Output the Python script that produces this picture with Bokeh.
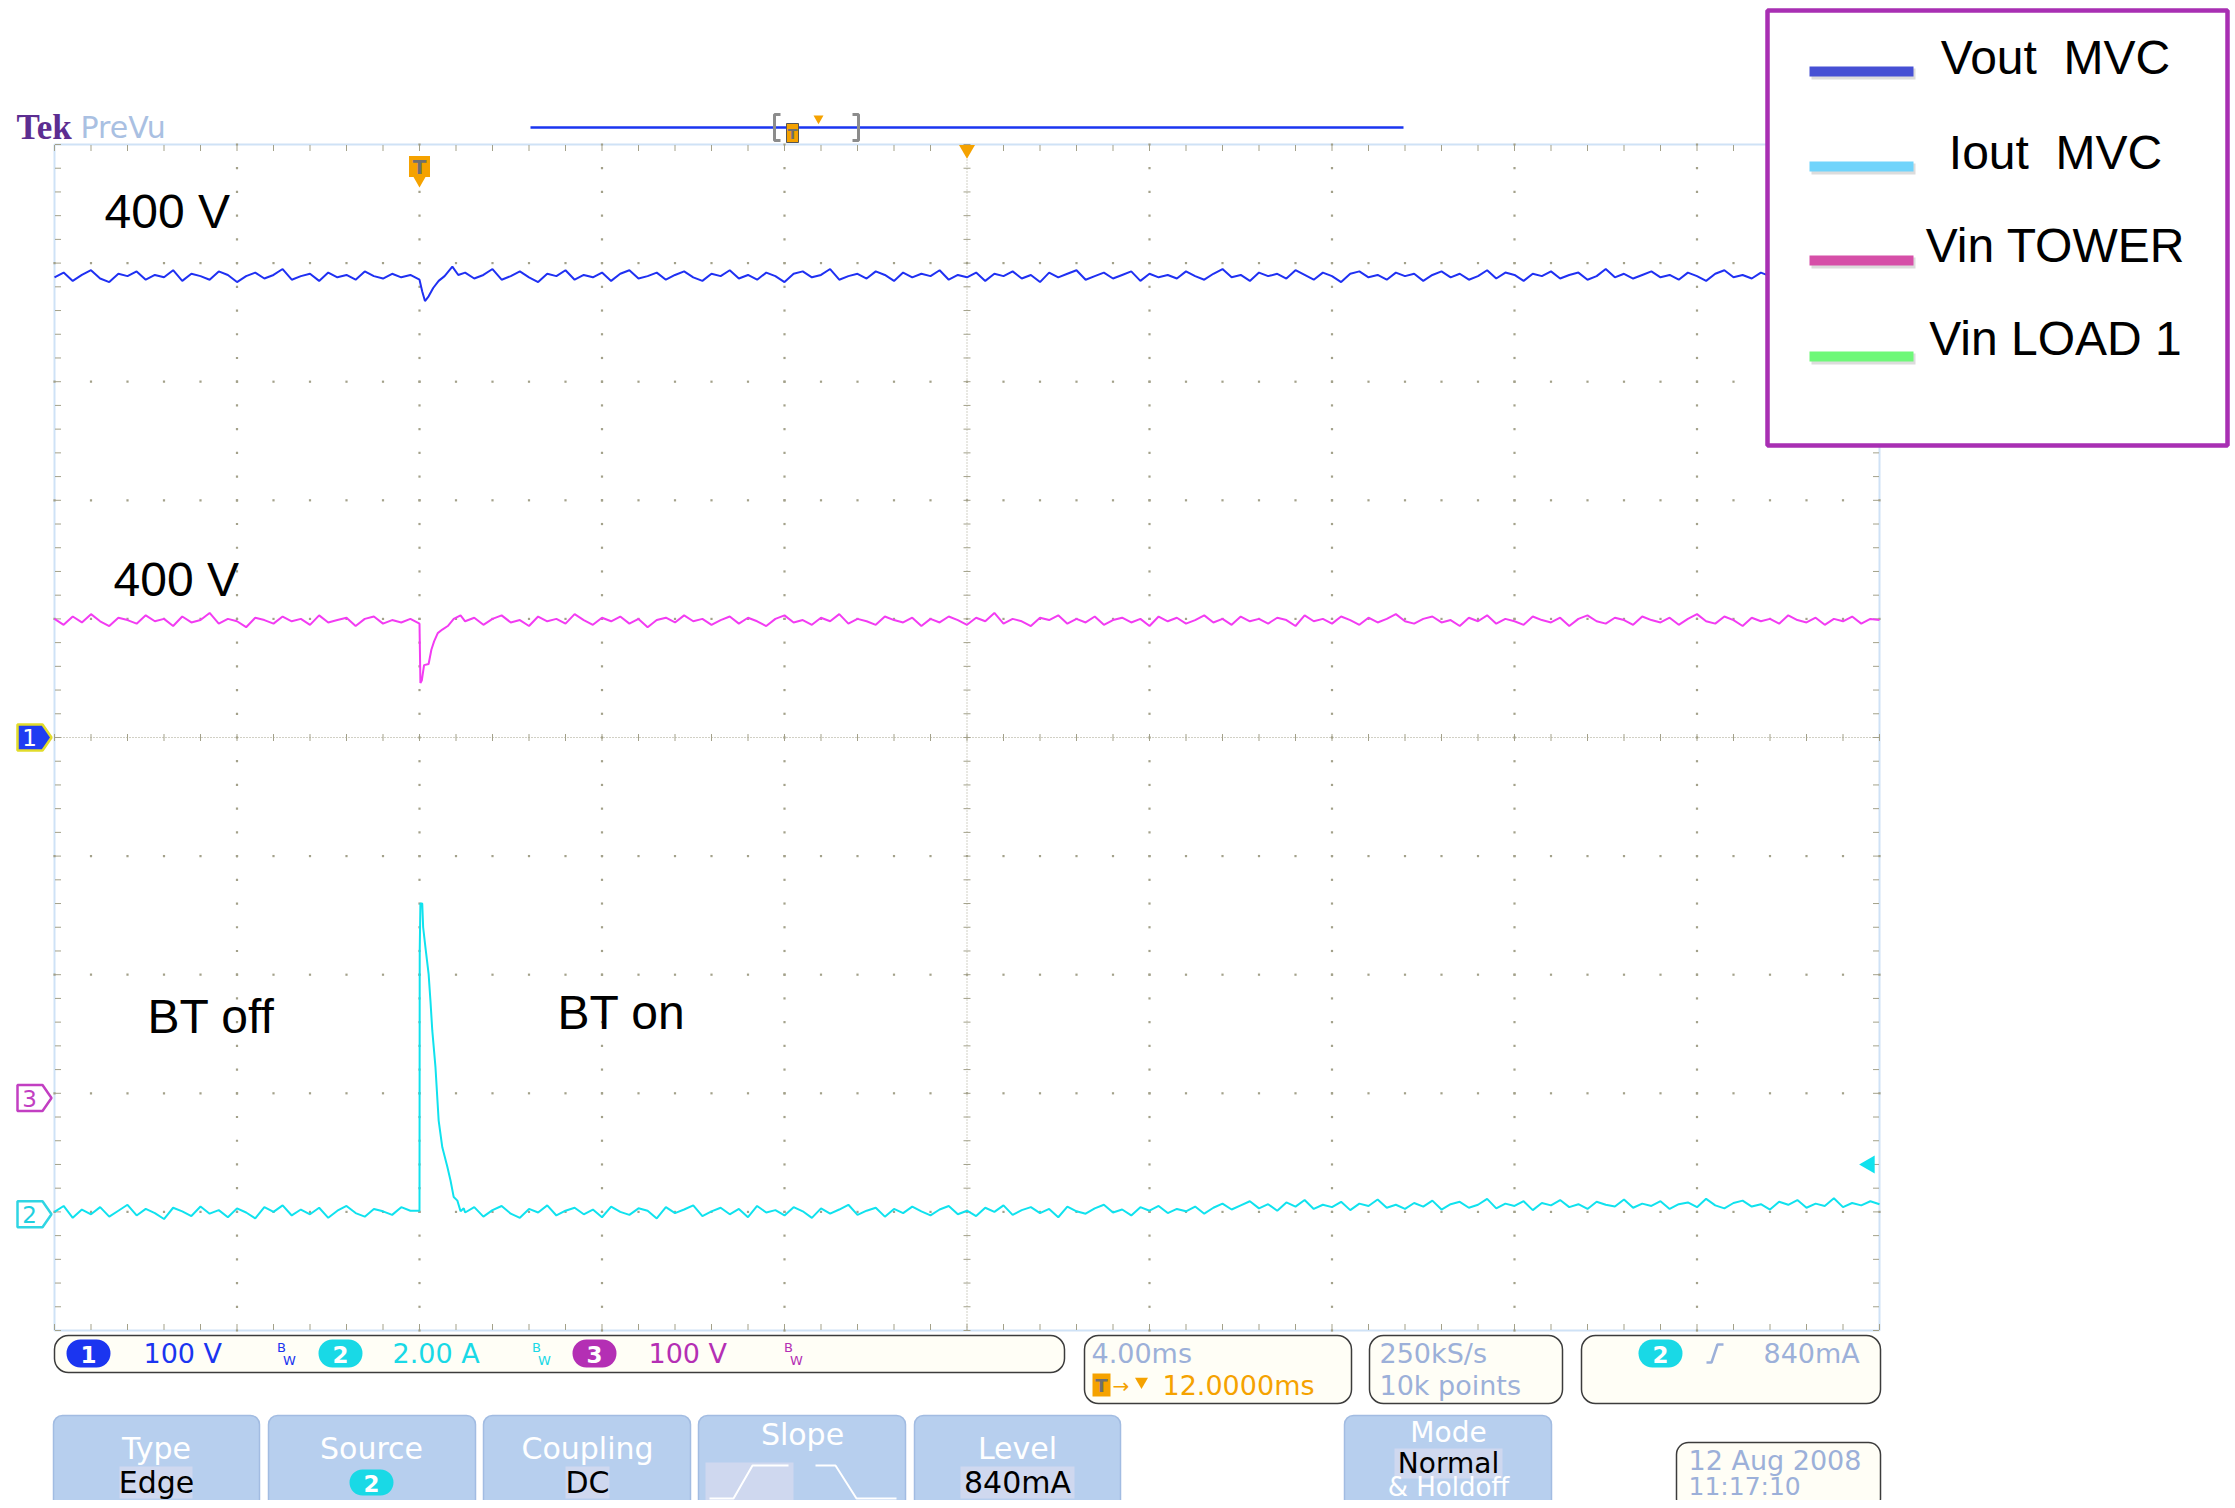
import numpy as np
from bokeh.plotting import figure
from bokeh.models import Range1d, BoxAnnotation, Label
from bokeh.core.properties import value
from bokeh.embed import file_html
from bokeh.resources import INLINE

# ------------------------------------------------------------------ data
TIME_PER_DIV_MS = 4.0
TIME_LEFT_MS = -8.0            # trigger point sits 2 divisions from the left edge
EXPANSION_MS = 12.0            # "T -> 12.0000ms"
SAMPLE_STEP_MS = 0.2
PRE_START_MS = -8.0
POST_START_MS = 1.0

LEGEND_NAMES = ["Vout\u00a0 MVC", "Iout\u00a0 MVC", "Vin TOWER", "Vin LOAD 1"]
CH_UNITS_PER_DIV = {"v1": 100.0, "i2": 2.0, "v3": 100.0}
CH_OFFSET_DIV = {"v1": 0.0, "i2": -4.02, "v3": -3.04}
TRIGGER_LEVEL_A = 0.84

# Ch1  Vout MVC  (V)
vout_pre = [388, 392, 385, 390, 394, 387, 384, 391, 389, 393, 386, 390, 388, 394, 385, 391, 389, 386, 393, 390,
            384, 389, 392, 387, 390, 395, 386, 389, 391, 385, 392, 388, 390, 386, 393, 389, 387, 391, 388, 390]
vout_tr_t = [0.0, 0.06, 0.12, 0.2, 0.3, 0.42, 0.55, 0.72, 0.85]
vout_tr = [386, 376, 368, 372, 379, 385, 389, 397, 390]
vout_post = [392, 387, 390, 395, 386, 389, 393, 388, 384, 391, 389, 394, 386, 390, 388, 392, 385, 391, 394, 387, 389, 392, 386, 390, 393, 388,
             385, 391, 389, 394, 387, 390, 386, 392, 389, 384, 391, 393, 388, 390, 395, 386, 389, 391, 387, 393, 390, 385, 392, 388, 391, 389,
             394, 386, 390, 388, 392, 385, 391, 389, 393, 387, 390, 384, 392, 388, 391, 394, 386, 389, 392, 387, 390, 393, 385, 391, 388, 390,
             387, 393, 389, 386, 391, 395, 388, 390, 385, 392, 389, 391, 387, 394, 390, 386, 392, 389, 384, 391, 393, 388, 390, 386, 392, 389,
             391, 385, 390, 393, 388, 391, 386, 389, 394, 387, 392, 390, 385, 391, 389, 393, 387, 390, 392, 386, 389, 395, 388, 391, 387, 390,
             393, 388, 390, 386, 392, 389, 385, 391, 394, 388, 390, 387, 392, 389, 386, 393, 390, 388, 391, 385, 392, 389, 394, 387, 390, 389]

# Ch3  Vin TOWER  (V)
vin_pre = [404, 399, 406, 401, 408, 402, 398, 405, 403, 400, 407, 402, 404, 398, 406, 401, 403, 409, 400, 404,
           402, 397, 405, 403, 400, 406, 402, 404, 399, 407, 401, 403, 405, 398, 404, 406, 400, 403, 401, 404]
vin_tr_t = [0.0, 0.02, 0.05, 0.1, 0.2, 0.26, 0.32, 0.4, 0.5, 0.62, 0.75, 0.9]
vin_tr = [400, 350, 352, 365, 366, 378, 385, 392, 395, 398, 404, 407]
vin_post = [402, 405, 399, 404, 407, 401, 403, 398, 406, 402, 404, 400, 408, 403, 399, 405, 402, 406, 400, 404, 397, 403, 405, 401, 407, 402,
            404, 399, 403, 406, 400, 405, 402, 398, 404, 407, 401, 403, 399, 405, 402, 408, 400, 404, 402, 399, 406, 403, 401, 405, 398, 404,
            401, 406, 403, 399, 405, 402, 409, 400, 404, 402, 398, 405, 403, 407, 400, 404, 401, 406, 399, 403, 405, 401, 404, 398, 406, 402,
            405, 400, 403, 407, 401, 404, 399, 406, 402, 404, 400, 405, 403, 398, 407, 402, 404, 400, 406, 403, 399, 405, 401, 404, 408, 402,
            400, 404, 406, 401, 403, 398, 405, 402, 407, 400, 404, 402, 399, 406, 403, 401, 405, 398, 404, 407, 402, 400, 405, 403, 399, 406,
            403, 401, 405, 399, 404, 408, 402, 400, 406, 403, 398, 405, 402, 404, 400, 407, 403, 401, 405, 399, 404, 402, 406, 400, 404, 403]

# Ch2  Iout MVC  (A)
iout_pre = [0.04, 0.14, -0.06, 0.08, 0.00, 0.12, -0.04, 0.06, 0.16, -0.02, 0.09, 0.02, -0.08, 0.11, 0.05, -0.03, 0.13, 0.01, 0.07, -0.05,
            0.10, 0.03, -0.07, 0.12, 0.04, 0.15, -0.02, 0.08, 0.00, 0.11, -0.06, 0.06, 0.14, 0.02, -0.04, 0.09, 0.05, -0.01, 0.12, 0.06]
iout_tr_t = [0.0, 0.005, 0.02, 0.06, 0.08, 0.13, 0.2, 0.24, 0.28, 0.35, 0.42, 0.5, 0.61, 0.68, 0.75, 0.83, 0.9, 0.97]
iout_tr = [0.06, 4.45, 5.24, 5.24, 4.84, 4.50, 4.05, 3.60, 3.10, 2.48, 1.58, 1.13, 0.80, 0.57, 0.29, 0.23, 0.05, 0.10]
iout_post = [0.03, 0.12, -0.04, 0.07, 0.14, 0.01, -0.06, 0.09, 0.03, 0.15, -0.02, 0.06, 0.11, 0.00, 0.08, -0.05, 0.13, 0.04, -0.01, 0.10, 0.06, -0.07, 0.12, 0.02, 0.08, 0.15,
             -0.03, 0.05, 0.11, 0.00, 0.09, -0.05, 0.14, 0.03, 0.07, -0.02, 0.12, 0.05, -0.06, 0.10, 0.01, 0.08, 0.16, -0.01, 0.06, 0.11, -0.04, 0.09, 0.02, 0.13, 0.05, -0.02,
             0.08, 0.14, 0.00, 0.06, -0.03, 0.11, 0.04, 0.15, -0.01, 0.07, 0.12, 0.02, 0.09, -0.05, 0.13, 0.05, 0.01, 0.10, 0.16, 0.03, 0.08, -0.02, 0.12, 0.06, 0.14, 0.02,
             0.09, 0.05, 0.13, 0.01, 0.11, 0.18, 0.08, 0.15, 0.22, 0.10, 0.17, 0.06, 0.20, 0.13, 0.24, 0.09, 0.16, 0.12, 0.21, 0.07, 0.18, 0.14, 0.25, 0.11, 0.16, 0.09,
             0.19, 0.13, 0.23, 0.08, 0.17, 0.21, 0.11, 0.16, 0.26, 0.10, 0.18, 0.14, 0.22, 0.07, 0.19, 0.15, 0.24, 0.12, 0.17, 0.09, 0.21, 0.16, 0.13, 0.25, 0.11, 0.18,
             0.14, 0.22, 0.09, 0.17, 0.20, 0.12, 0.26, 0.15, 0.10, 0.19, 0.23, 0.13, 0.17, 0.08, 0.21, 0.16, 0.24, 0.11, 0.18, 0.14, 0.27, 0.12, 0.19, 0.15, 0.22, 0.17]


def series(pre, tr_t, tr_v, post):
    t = [PRE_START_MS + SAMPLE_STEP_MS * i for i in range(len(pre))] + list(tr_t) + \
        [POST_START_MS + SAMPLE_STEP_MS * i for i in range(len(post))]
    return t, list(pre) + list(tr_v) + list(post)


# ------------------------------------------------------------------ geometry (page px)
W, H = 2232, 1500
M = 0
GL, GR, GT, GB = 54, 1879, 144, 1330
PXX = (GR - GL) / 10.0
PXY = (GB - GT) / 10.0

x0 = TIME_LEFT_MS - (GL - M) / PXX * TIME_PER_DIV_MS
x1 = TIME_LEFT_MS + (M + W - GL) / PXX * TIME_PER_DIV_MS
dtop = 5 + (GT - M) / PXY
dbot = -5 - (M + H - GB) / PXY

p = figure(width=W, height=H, x_range=Range1d(x0, x1), y_range=Range1d(dbot, dtop),
           output_backend="svg", toolbar_location=None, min_border=0,
           x_axis_type=None, y_axis_type=None, outline_line_color=None,
           background_fill_color="white", border_fill_color="white")
p.extra_x_ranges = {"px": Range1d(M, M + W)}
yr = {"py": Range1d(M + H, M)}
for ch in CH_UNITS_PER_DIV:
    s, o = CH_UNITS_PER_DIV[ch], CH_OFFSET_DIV[ch]
    yr[ch] = Range1d((dbot - o) * s, (dtop - o) * s)
p.extra_y_ranges = yr

GRID = "#a3a18a"
FONT_UI = "DejaVu Sans"
FONT_TXT = "Liberation Sans"


def txt(x, y, s, size, color, font=FONT_UI, align="left", baseline="middle", style="normal", xr="px", yrn="py"):
    p.text(x=[x], y=[y], text=[s], x_range_name=xr, y_range_name=yrn,
           text_font=value(font), text_font_size=f"{size}px", text_color=color,
           text_align=align, text_baseline=baseline, text_font_style=style)


def box(l, r, t, b, fill, line=None, lw=1, radius=0, level="underlay", alpha=1.0):
    p.add_layout(BoxAnnotation(left=l, right=r, top=t, bottom=b, x_range_name="px", y_range_name="py",
                               fill_color=fill, fill_alpha=alpha, line_color=line, line_alpha=1.0,
                               line_width=lw, border_radius=radius, level=level))


# ------------------------------------------------------------------ graticule
t_major = [TIME_LEFT_MS + TIME_PER_DIV_MS * k for k in range(11)]
t_minor = [TIME_LEFT_MS + TIME_PER_DIV_MS * 0.2 * j for j in range(51)]
d_major = [-5 + k for k in range(11)]
d_minor = [-5 + 0.2 * j for j in range(51)]
t_center = t_major[5]

p.quad(left=[t_major[0]], right=[t_major[-1]], bottom=[-5], top=[5], fill_color=None,
       line_color="#cfe2f6", line_width=2)

gx, gy = [], []
for tm in t_major[1:-1]:
    if tm == t_center:
        continue
    for d in d_minor:
        gx.append(tm); gy.append(d)
for dm in d_major[1:-1]:
    if dm == 0:
        continue
    for tm in t_minor:
        gx.append(tm); gy.append(dm)
p.scatter(gx, gy, marker="square", size=2.2, fill_color=GRID, line_color=None)

p.line([t_center, t_center], [-5, 5], line_color=GRID, line_dash="1 2", line_width=1)
p.line([t_major[0], t_major[-1]], [0, 0], line_color=GRID, line_dash="1 2", line_width=1)
p.scatter([t_center] * len(d_minor), d_minor, marker="dash", size=7, line_color=GRID, line_width=1)
p.scatter(t_minor, [0] * len(t_minor), marker="dash", angle=np.pi / 2, size=7, line_color=GRID, line_width=1)
ex = 3.5 / PXX * TIME_PER_DIV_MS
ey = 3.5 / PXY
p.scatter(t_minor, [5 - ey] * len(t_minor), marker="dash", angle=np.pi / 2, size=6, line_color=GRID, line_width=1)
p.scatter(t_minor, [-5 + ey] * len(t_minor), marker="dash", angle=np.pi / 2, size=6, line_color=GRID, line_width=1)
p.scatter([t_major[0] + ex] * len(d_minor), d_minor, marker="dash", size=6, line_color=GRID, line_width=1)
p.scatter([t_major[-1] - ex] * len(d_minor), d_minor, marker="dash", size=6, line_color=GRID, line_width=1)

# ------------------------------------------------------------------ traces
C1, C2, C3 = "#1f30f2", "#10e2ee", "#f23cf2"
t, v = series(vin_pre, vin_tr_t, vin_tr, vin_post)
p.line(t, v, y_range_name="v3", line_color=C3, line_width=2)
t, v = series(vout_pre, vout_tr_t, vout_tr, vout_post)
p.line(t, v, y_range_name="v1", line_color=C1, line_width=2)
t, v = series(iout_pre, iout_tr_t, iout_tr, iout_post)
p.line(t, v, y_range_name="i2", line_color=C2, line_width=2)

# channel ground markers (left)
for ch, fill, edge, tcol, lab in [("v1", "#1f3cf2", "#e2dc2a", "white", "1"),
                                  ("v3", "white", "#c23fc2", "#c23fc2", "3"),
                                  ("i2", "white", "#2fd5e3", "#1fd0e0", "2")]:
    h = 13 / PXY * CH_UNITS_PER_DIV[ch]
    p.patch([17, 42, 51, 42, 17], [h, h, 0, -h, -h], x_range_name="px", y_range_name=ch,
            fill_color=fill, line_color=edge, line_width=2.5)
    txt(29, 0, lab, 23, tcol, align="center", yrn=ch)

# trigger level arrow (right)
p.scatter([1869], [TRIGGER_LEVEL_A], x_range_name="px", y_range_name="i2", marker="triangle",
          angle=np.pi / 2, size=18, fill_color=C2, line_color=None)

# trigger "T" marker at trigger time and expansion triangle
ORANGE = "#f5a200"
p.scatter([0.0], [166], y_range_name="py", marker="square", size=21, fill_color=ORANGE, line_color=None)
p.scatter([0.0], [180], y_range_name="py", marker="inverted_triangle", size=12, fill_color=ORANGE, line_color=None)
txt(0.0, 166, "T", 20, "#6f6f6f", align="center", style="bold", xr="default")
p.scatter([EXPANSION_MS], [149], y_range_name="py", marker="inverted_triangle", size=16,
          fill_color=ORANGE, line_color=None)

# ------------------------------------------------------------------ header
txt(16, 127, "Tek", 35, "#5c2d91", font="Liberation Serif", style="bold")
txt(80, 127, "PreVu", 30, "#a9c0e2")
p.line([530, 1403], [127, 127], x_range_name="px", y_range_name="py", line_color="#1a35f0", line_width=2.5)
p.line([780, 774, 774, 780], [114, 114, 140, 140], x_range_name="px", y_range_name="py", line_color="#8c8c8c", line_width=3)
p.line([852, 858, 858, 852], [114, 114, 140, 140], x_range_name="px", y_range_name="py", line_color="#8c8c8c", line_width=3)
p.quad(left=[786], right=[798], top=[123], bottom=[142], x_range_name="px", y_range_name="py",
       fill_color=ORANGE, line_color="#555555", line_width=1)
txt(792, 133, "T", 14, "#6f6f6f", align="center", style="bold")
p.scatter([818], [118], x_range_name="px", y_range_name="py", marker="inverted_triangle", size=10,
          fill_color=ORANGE, line_color=None)

# ------------------------------------------------------------------ annotations
txt(104, 211, "400 V", 48, "black", font=FONT_TXT)
txt(113, 579, "400 V", 48, "black", font=FONT_TXT)
txt(147, 1016, "BT off", 48, "black", font=FONT_TXT)
txt(557, 1012, "BT on", 48, "black", font=FONT_TXT)

# ------------------------------------------------------------------ readout boxes
CREAM, EDGE = "#fffef6", "#3c3c3c"
RB = "#9cb0d9"
box(54, 1064, 1335, 1372, CREAM, EDGE, 1.5, 14)
box(1084, 1351, 1335, 1403, CREAM, EDGE, 1.5, 14)
box(1369, 1562, 1335, 1403, CREAM, EDGE, 1.5, 14)
box(1581, 1880, 1335, 1403, CREAM, EDGE, 1.5, 14)
box(1676, 1880, 1442, 1510, CREAM, EDGE, 1.5, 12)

RC1, RC2, RC3 = "#1b35f0", "#19d9e6", "#b42fb4"
for cx, col, lab, txtv, tx, bwx in [(88, RC1, "1", "100 V", 143, 281),
                                     (340, RC2, "2", "2.00 A", 392, 536),
                                     (594, RC3, "3", "100 V", 648, 788)]:
    box(cx - 22, cx + 22, 1339, 1367, col, None, 0, 14)
    txt(cx, 1354, lab, 23, "white", align="center", style="bold")
    txt(tx, 1353, txtv, 27, col)
    txt(bwx, 1347, "B", 13, col, align="center")
    txt(bwx + 8, 1360, "W", 13, col, align="center")

txt(1091, 1353, "4.00ms", 27, RB)
p.quad(left=[1092], right=[1110], top=[1373], bottom=[1396], x_range_name="px", y_range_name="py",
       fill_color=ORANGE, line_color=None)
txt(1101, 1385, "T", 18, "#6f6f6f", align="center", style="bold")
txt(1112, 1385, "\u2192", 20, ORANGE)
p.scatter([1141], [1381], x_range_name="px", y_range_name="py", marker="inverted_triangle", size=13,
          fill_color=ORANGE, line_color=None)
txt(1162, 1385, "12.0000ms", 27, ORANGE)
txt(1379, 1353, "250kS/s", 27, RB)
txt(1379, 1385, "10k points", 27, RB)
box(1638, 1682, 1339, 1367, RC2, None, 0, 14)
txt(1660, 1354, "2", 23, "white", align="center", style="bold")
p.line([1706, 1711, 1717, 1723], [1362, 1362, 1344, 1344], x_range_name="px", y_range_name="py",
       line_color=RB, line_width=2.5)
txt(1763, 1353, "840mA", 27, RB)
txt(1688, 1460, "12 Aug 2008", 27, RB)
txt(1688, 1486, "11:17:10", 25, RB)

# ------------------------------------------------------------------ menu buttons
BTN, BTN_EDGE, HL = "#b7cfee", "#a2bce2", "#cfd8ef"
buttons = [(53, 259), (268, 475), (483, 690), (698, 905), (914, 1120)]
for l, r in buttons:
    box(l, r, 1415, 1515, BTN, BTN_EDGE, 1.5, (9, 9, 0, 0))
box(1344, 1551, 1415, 1515, BTN, BTN_EDGE, 1.5, (9, 9, 0, 0))

box(119, 192, 1466, 1498, HL)
box(565, 609, 1466, 1498, HL)
box(960, 1074, 1466, 1498, HL)
box(1394, 1502, 1448, 1478, HL)
box(705, 793, 1462, 1504, HL)

txt(156, 1448, "Type", 30, "white", align="center")
txt(156, 1482, "Edge", 30, "black", align="center")
txt(371, 1448, "Source", 30, "white", align="center")
box(349, 393, 1469, 1495, RC2, None, 0, 13)
txt(371, 1483, "2", 23, "white", align="center", style="bold")
txt(587, 1448, "Coupling", 30, "white", align="center")
txt(587, 1482, "DC", 30, "black", align="center")
txt(802, 1434, "Slope", 30, "white", align="center")
p.line([709, 733, 752, 788], [1498, 1498, 1465, 1465], x_range_name="px", y_range_name="py",
       line_color="white", line_width=2)
p.line([815, 835, 856, 896], [1465, 1465, 1498, 1498], x_range_name="px", y_range_name="py",
       line_color="white", line_width=2)
txt(1017, 1448, "Level", 30, "white", align="center")
txt(1017, 1482, "840mA", 30, "black", align="center")
txt(1448, 1432, "Mode", 28, "white", align="center")
txt(1448, 1463, "Normal", 28, "black", align="center")
txt(1448, 1486, "& Holdoff", 26, "white", align="center")

# ------------------------------------------------------------------ legend (drawn on top)
box(1767, 2227, 10, 445, "white", "#a82fb3", 4.5, 0, level="annotation")
LEG_COLORS = ["#4650d4", "#70d4fb", "#d64fa8", "#6ef878"]
LEG_Y = [71, 166, 260, 356]
LEG_TY = [57, 152, 245, 338]
for name, col, ly, ty in zip(LEGEND_NAMES, LEG_COLORS, LEG_Y, LEG_TY):
    box(1811, 1915, ly - 3, ly + 8, "#c4c4c4", None, 0, 0, level="annotation", alpha=0.6)
    box(1809, 1913, ly - 5, ly + 5, col, None, 0, 0, level="annotation")
    p.add_layout(Label(x=2055, y=ty, x_range_name="px", y_range_name="py", text=name,
                       text_font=FONT_TXT, text_font_size="48px", text_color="black",
                       text_align="center", text_baseline="middle"))

open("out.html", "w").write(file_html(p, INLINE))
